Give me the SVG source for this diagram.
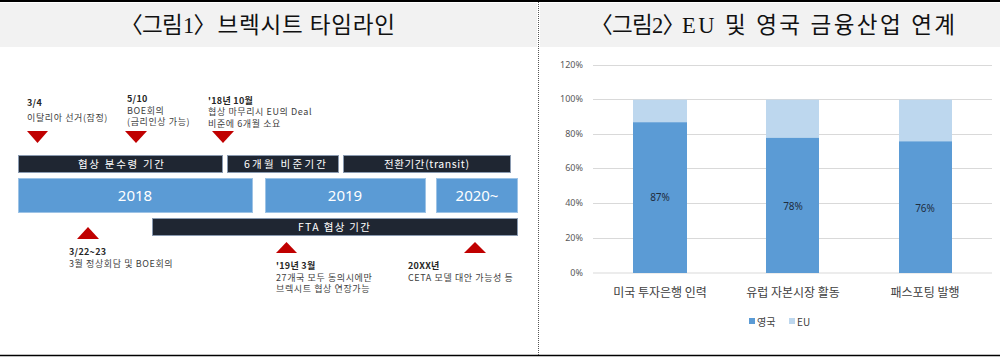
<svg xmlns="http://www.w3.org/2000/svg" width="1000" height="358" viewBox="0 0 1000 358">
<defs>
<style>
.title{font-family:"Liberation Serif","Noto Sans CJK KR",serif;font-size:22.5px;fill:#111}
.pal{font-feature-settings:"palt"}
.t{font-family:"Noto Sans CJK KR","Noto Sans",sans-serif;font-size:9px;letter-spacing:0.6px;fill:#404040}
.tb{font-family:"Noto Sans CJK KR","Noto Sans",sans-serif;font-size:9px;letter-spacing:0.3px;fill:#262626;font-weight:bold}
.dark{fill:#1f2632;stroke:#8a9ab0;stroke-width:1}
.blue{fill:#5b9bd5;stroke:#9dc3e6;stroke-width:1}
.wt{font-family:"Noto Sans CJK KR","Noto Sans",sans-serif;font-size:10.5px;fill:#ffffff}
.yr{font-family:"Noto Sans","Noto Sans CJK KR",sans-serif;font-size:15px;fill:#ffffff;text-anchor:middle}
.tri{fill:#c00000}
.grid{stroke:#d9d9d9;stroke-width:1}
.ax{font-family:"Noto Sans","Noto Sans CJK KR",sans-serif;font-size:9px;fill:#595959;text-anchor:end}
.uk{fill:#5b9bd5}
.eu{fill:#bdd7ee}
.val{font-family:"Noto Sans","Noto Sans CJK KR",sans-serif;font-size:10px;fill:#1f2d3d;text-anchor:middle}
.cat{font-family:"Noto Sans CJK KR","Noto Sans",sans-serif;font-size:12px;fill:#404040;text-anchor:middle}
.leg{font-family:"Noto Sans CJK KR","Noto Sans",sans-serif;font-size:10px;fill:#404040}
</style>
</defs>
<rect x="0" y="0" width="1000" height="358" fill="#ffffff"/>
<!-- frame -->
<rect x="0" y="3" width="537" height="44" fill="#f2f2f2"/>
<rect x="540" y="3" width="460" height="44" fill="#f2f2f2"/>
<line x1="0" y1="1" x2="1000" y2="1" stroke="#000" stroke-width="2"/>
<line x1="0" y1="355.5" x2="1000" y2="355.5" stroke="#000" stroke-width="1.5"/>
<line x1="538.5" y1="2" x2="538.5" y2="355" stroke="#555" stroke-width="1" stroke-dasharray="1,1"/>
<text class="title pal" y="33"><tspan x="131 142 162 183 194">〈그림1〉</tspan><tspan x="211" textLength="184" lengthAdjust="spacing"> 브렉시트 타임라인</tspan></text>
<text class="title pal" y="33"><tspan x="601 612 632 652 663">〈그림2〉</tspan><tspan x="674" textLength="281" lengthAdjust="spacing"> EU 및 영국 금융산업 연계</tspan></text>

<!-- Timeline -->
<g id="bar-negotiation"><rect class="dark" x="18.5" y="155.5" width="204" height="17"/><text class="wt" x="78" y="168" textLength="86" lengthAdjust="spacing">협상 분수령 기간</text></g>
<g id="bar-ratify"><rect class="dark" x="227.5" y="155.5" width="111" height="17"/><text class="wt" x="244" y="168" textLength="82" lengthAdjust="spacing">6개월 비준기간</text></g>
<g id="bar-transit"><rect class="dark" x="343.5" y="155.5" width="167" height="17"/><text class="wt" x="384" y="168" textLength="85" lengthAdjust="spacing">전환기간(transit)</text></g>
<g id="year-2018"><rect class="blue" x="18.5" y="178.5" width="234" height="34"/><text class="yr" x="135" y="201">2018</text></g>
<g id="year-2019"><rect class="blue" x="265.5" y="178.5" width="160" height="34"/><text class="yr" x="345" y="201">2019</text></g>
<g id="year-2020"><rect class="blue" x="436.5" y="178.5" width="81" height="34"/><text class="yr" x="477" y="201">2020~</text></g>
<g id="bar-fta"><rect class="dark" x="152.5" y="218.5" width="365" height="17"/><text class="wt" x="298" y="231" textLength="72" lengthAdjust="spacing">FTA 협상 기간</text></g>

<g id="ev-0304"><polygon class="tri" points="27,131 48,131 37.5,143"/><text class="tb" x="27" y="106">3/4</text><text class="t" x="27" y="121">이탈리아 선거(잠정)</text></g>
<g id="ev-0510"><polygon class="tri" points="125,131 147,131 136,143"/><text class="tb" x="127" y="102">5/10</text><text class="t" x="127" y="113.5">BOE회의</text><text class="t" x="127" y="125">(금리인상 가능)</text></g>
<g id="ev-1810"><polygon class="tri" points="212,131 234,131 223,143"/><text class="tb" x="208" y="103.5">'18년 10월</text><text class="t" x="208" y="115">협상 마무리시 EU의 Deal</text><text class="t" x="208" y="126.5">비준에 6개월 소요</text></g>
<g id="ev-0322"><polygon class="tri" points="77,239 99,239 88,227"/><text class="tb" x="69" y="255">3/22~23</text><text class="t" x="69" y="266.5">3월 정상회담 및 BOE회의</text></g>
<g id="ev-1903"><polygon class="tri" points="276,253 297,253 286.5,242"/><text class="tb" x="276" y="269">'19년 3월</text><text class="t" x="276" y="280.5">27개국 모두 동의시에만</text><text class="t" x="276" y="292">브렉시트 협상 연장가능</text></g>
<g id="ev-20xx"><polygon class="tri" points="464,253 486,253 475,242"/><text class="tb" x="408" y="269">20XX년</text><text class="t" x="408" y="280.5">CETA 모델 대안 가능성 등</text></g>

<!-- Chart -->
<g id="axis">
<line class="grid" x1="593" y1="65.5" x2="992" y2="65.5"/>
<line class="grid" x1="593" y1="99.5" x2="992" y2="99.5"/>
<line class="grid" x1="593" y1="134.5" x2="992" y2="134.5"/>
<line class="grid" x1="593" y1="168.5" x2="992" y2="168.5"/>
<line class="grid" x1="593" y1="203.5" x2="992" y2="203.5"/>
<line class="grid" x1="593" y1="238.5" x2="992" y2="238.5"/>
<line class="grid" x1="593" y1="273" x2="992" y2="273" stroke-width="1.5"/>
<text class="ax" x="583" y="68">120%</text>
<text class="ax" x="583" y="102">100%</text>
<text class="ax" x="583" y="137">80%</text>
<text class="ax" x="583" y="171">60%</text>
<text class="ax" x="583" y="206">40%</text>
<text class="ax" x="583" y="241">20%</text>
<text class="ax" x="583" y="276">0%</text>
</g>
<g id="bar-us-ib">
<rect class="eu" x="633" y="99.7" width="54" height="22.5"/>
<rect class="uk" x="633" y="122.2" width="54" height="150.8"/>
<text class="val" x="660" y="201">87%</text>
<text class="cat" x="660" y="297">미국 투자은행 인력</text>
</g>
<g id="bar-eu-cm">
<rect class="eu" x="766" y="99.7" width="53" height="38.1"/>
<rect class="uk" x="766" y="137.8" width="53" height="135.2"/>
<text class="val" x="793" y="210">78%</text>
<text class="cat" x="793" y="297">유럽 자본시장 활동</text>
</g>
<g id="bar-passport">
<rect class="eu" x="899" y="99.7" width="53" height="41.6"/>
<rect class="uk" x="899" y="141.3" width="53" height="131.7"/>
<text class="val" x="925" y="212">76%</text>
<text class="cat" x="925" y="297">패스포팅 발행</text>
</g>
<g id="legend">
<rect class="uk" x="749" y="318" width="6" height="6"/>
<text class="leg" x="757" y="326">영국</text>
<rect class="eu" x="789" y="318" width="6" height="6"/>
<text class="leg" x="797" y="326">EU</text>
</g>
</svg>
